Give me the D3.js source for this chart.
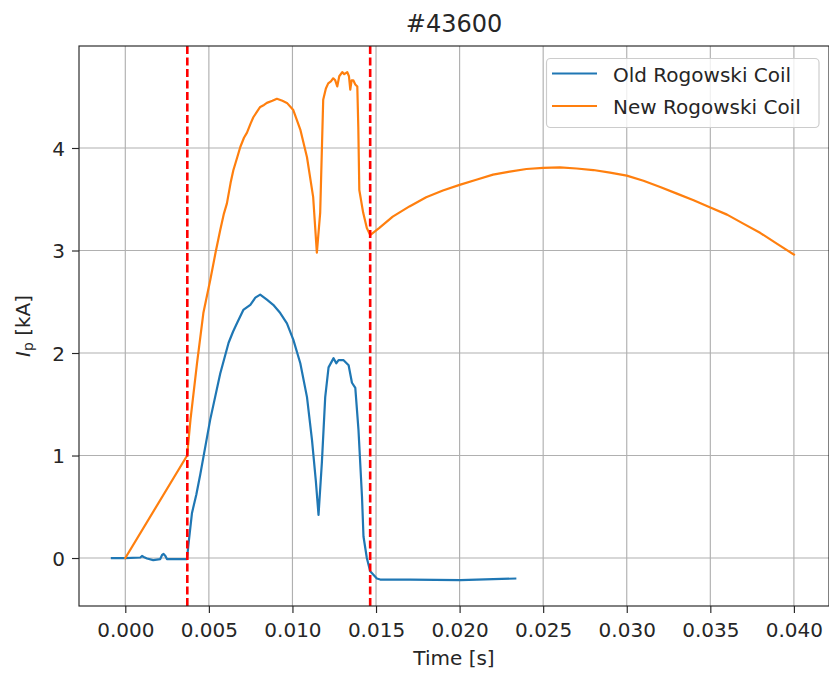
<!DOCTYPE html>
<html>
<head>
<meta charset="utf-8">
<script src="https://cdn.jsdelivr.net/npm/d3@7"></script>
<style>
  html, body { margin: 0; padding: 0; background: #fff; }
  svg { display: block; font-family: "DejaVu Sans", sans-serif; }
</style>
</head>
<body>
<svg id="chart" width="829" height="673"></svg>
<script>
// ---- data ----
const title = "#43600";
const seriesNames = ["Old Rogowski Coil", "New Rogowski Coil"];
const seriesColors = ["#1f77b4", "#ff7f0e"];

const oldTime = [-0.0008, 0.0000, 0.0009, 0.0010, 0.0011, 0.0013, 0.00167, 0.00209, 0.0022, 0.00229, 0.0024, 0.00249, 0.0030, 0.00369,
  0.00379, 0.00399, 0.00425, 0.00449, 0.00508, 0.00568, 0.00618, 0.00645, 0.00668, 0.00706, 0.00748, 0.00778, 0.00807, 0.00847, 0.00885,
  0.00927, 0.00967, 0.01005, 0.01047, 0.01087, 0.01117, 0.01140, 0.01156, 0.01176, 0.01196, 0.01216, 0.01246, 0.01262, 0.01276,
  0.01306, 0.01336, 0.01356, 0.01376, 0.01395, 0.01416, 0.01425, 0.01445, 0.01465, 0.01505, 0.01525, 0.01705, 0.02004, 0.02333];
const oldCurrent = [0.00, 0.00, 0.005, 0.02, 0.01, -0.005, -0.02, -0.01, 0.03, 0.04, 0.02, -0.01, -0.01, -0.01,
  0.15, 0.44, 0.62, 0.82, 1.35, 1.80, 2.10, 2.21, 2.29, 2.42, 2.47, 2.54, 2.57, 2.52, 2.47,
  2.39, 2.29, 2.13, 1.90, 1.57, 1.15, 0.75, 0.42, 0.93, 1.57, 1.86, 1.95, 1.90, 1.93,
  1.93, 1.88, 1.71, 1.66, 1.25, 0.60, 0.21, 0.00, -0.13, -0.20, -0.21, -0.21, -0.215, -0.20];

const newTime = [0, 0.0037, 0.0039, 0.00429, 0.00467, 0.00508, 0.0054, 0.00568, 0.0059, 0.00608, 0.0063, 0.00646, 0.00668,
  0.00688, 0.0071, 0.00728, 0.0075, 0.00766, 0.0079, 0.00807, 0.0083, 0.00847, 0.0088, 0.00907, 0.0094, 0.00967, 0.01005,
  0.01047, 0.01087, 0.01124, 0.01146, 0.01166, 0.01184, 0.0120, 0.01214, 0.0123, 0.01244, 0.01256, 0.01268, 0.0128,
  0.01298, 0.0131, 0.01328, 0.01338, 0.01346, 0.01354, 0.01364, 0.01376, 0.01388, 0.01394, 0.0140, 0.01423, 0.01445,
  0.01465, 0.0152, 0.0160, 0.0170, 0.0180, 0.0190, 0.0200, 0.0210, 0.0220, 0.0230, 0.0240, 0.0250, 0.0260, 0.0270,
  0.0280, 0.0290, 0.0300, 0.0310, 0.0320, 0.0330, 0.0340, 0.0350, 0.0360, 0.0370, 0.0380, 0.0390, 0.0400];
const newCurrent = [0, 1.00, 1.35, 1.90, 2.39, 2.71, 2.98, 3.20, 3.36, 3.46, 3.66, 3.78, 3.90,
  4.01, 4.10, 4.15, 4.24, 4.30, 4.36, 4.40, 4.42, 4.44, 4.46, 4.48, 4.46, 4.44, 4.37,
  4.18, 3.91, 3.52, 2.98, 3.37, 4.47, 4.58, 4.63, 4.65, 4.68, 4.66, 4.60, 4.70,
  4.74, 4.72, 4.74, 4.70, 4.57, 4.66, 4.66, 4.62, 4.60, 4.20, 3.59, 3.37, 3.22,
  3.15, 3.22, 3.33, 3.43, 3.52, 3.585, 3.64, 3.69, 3.74, 3.77, 3.795, 3.807, 3.81, 3.80,
  3.785, 3.76, 3.73, 3.68, 3.62, 3.555, 3.49, 3.42, 3.35, 3.26, 3.17, 3.065, 2.96];

const markerTimes = [0.00371, 0.01465];
const xTicks = [0.000, 0.005, 0.010, 0.015, 0.020, 0.025, 0.030, 0.035, 0.040];
const yTicks = [0, 1, 2, 3, 4];
const xLabel = "Time [s]";

// ---- layout ----
const svg = d3.select("#chart");
const pL = 79, pR = 829, pT = 46, pB = 606;
const x = d3.scaleLinear().domain([-0.00277, 0.04210]).range([pL, pR]);
const y = d3.scaleLinear().domain([-0.468, 4.995]).range([pB, pT]);
const textColor = "#262626";

// clip
svg.append("defs").append("clipPath").attr("id", "plotclip")
  .append("rect").attr("x", pL).attr("y", pT).attr("width", pR - pL).attr("height", pB - pT);

// grid
const grid = svg.append("g");
grid.selectAll(".gx").data(xTicks).enter().append("line")
  .attr("x1", d => x(d)).attr("x2", d => x(d)).attr("y1", pT).attr("y2", pB)
  .attr("stroke", "#b0b0b0").attr("stroke-width", 1.15);
grid.selectAll(".gy").data(yTicks).enter().append("line")
  .attr("x1", pL).attr("x2", pR).attr("y1", d => y(d)).attr("y2", d => y(d))
  .attr("stroke", "#b0b0b0").attr("stroke-width", 1.15);

// lines
const plot = svg.append("g").attr("clip-path", "url(#plotclip)");
const series = [
  oldTime.map((t, i) => [t, oldCurrent[i]]),
  newTime.map((t, i) => [t, newCurrent[i]])
];
const line = d3.line().x(d => x(d[0])).y(d => y(d[1])).curve(d3.curveLinear);
series.forEach((s, i) => {
  plot.append("path").datum(s).attr("d", line)
    .attr("fill", "none").attr("stroke", seriesColors[i]).attr("stroke-width", 2.2)
    .attr("stroke-linejoin", "round").attr("stroke-linecap", "square");
});

// red dashed markers
plot.selectAll(".vline").data(markerTimes).enter().append("line")
  .attr("x1", d => x(d)).attr("x2", d => x(d)).attr("y1", pT).attr("y2", pB)
  .attr("stroke", "#ff0000").attr("stroke-width", 2.6).attr("stroke-dasharray", "8,3.5");

// axes
const xAxis = d3.axisBottom(x).tickValues(xTicks).tickFormat(d3.format(".3f")).tickSize(7).tickPadding(9);
const yAxis = d3.axisLeft(y).tickValues(yTicks).tickFormat(d3.format("d")).tickSize(7).tickPadding(7);
const gx = svg.append("g").attr("transform", `translate(0,${pB})`).call(xAxis);
const gy = svg.append("g").attr("transform", `translate(${pL},0)`).call(yAxis);
[gx, gy].forEach(g => {
  g.select(".domain").remove();
  g.selectAll(".tick line").attr("stroke", textColor).attr("stroke-width", 1.15);
  g.selectAll(".tick text").attr("fill", textColor).attr("font-size", 20)
    .attr("font-family", "DejaVu Sans");
});
gx.selectAll(".tick text").attr("dy", "0.76em");
gy.selectAll(".tick text").attr("dy", "0.36em");

// spines
svg.append("rect").attr("x", pL).attr("y", pT).attr("width", pR - pL).attr("height", pB - pT)
  .attr("fill", "none").attr("stroke", textColor).attr("stroke-width", 1.15);

// title
svg.append("text").attr("x", (pL + pR) / 2).attr("y", 31.5).attr("text-anchor", "middle")
  .attr("font-size", 24).attr("fill", textColor).text(title);

// x label
svg.append("text").attr("x", (pL + pR) / 2).attr("y", 665).attr("text-anchor", "middle")
  .attr("font-size", 20).attr("fill", textColor).text(xLabel);

// y label
const yl = svg.append("text").attr("transform", `translate(30,${(pT + pB) / 2}) rotate(-90)`)
  .attr("text-anchor", "middle").attr("font-size", 20).attr("fill", textColor);
yl.append("tspan").attr("font-style", "italic").text("I");
yl.append("tspan").attr("font-size", 14).attr("dy", 3).text("p");
yl.append("tspan").attr("dy", -3).text(" [kA]");

// legend
const lg = svg.append("g");
lg.append("rect").attr("x", 546.5).attr("y", 58.5).attr("width", 272.5).attr("height", 69)
  .attr("rx", 4).attr("fill", "#ffffff").attr("fill-opacity", 0.8)
  .attr("stroke", "#cccccc").attr("stroke-width", 1.15);
seriesNames.forEach((name, i) => {
  const cy = 73.5 + i * 32.5;
  lg.append("line").attr("x1", 552).attr("x2", 597).attr("y1", cy).attr("y2", cy)
    .attr("stroke", seriesColors[i]).attr("stroke-width", 2.2);
  lg.append("text").attr("x", 613).attr("y", cy + 8).attr("font-size", 20)
    .attr("fill", textColor).text(name);
});
</script>
</body>
</html>
